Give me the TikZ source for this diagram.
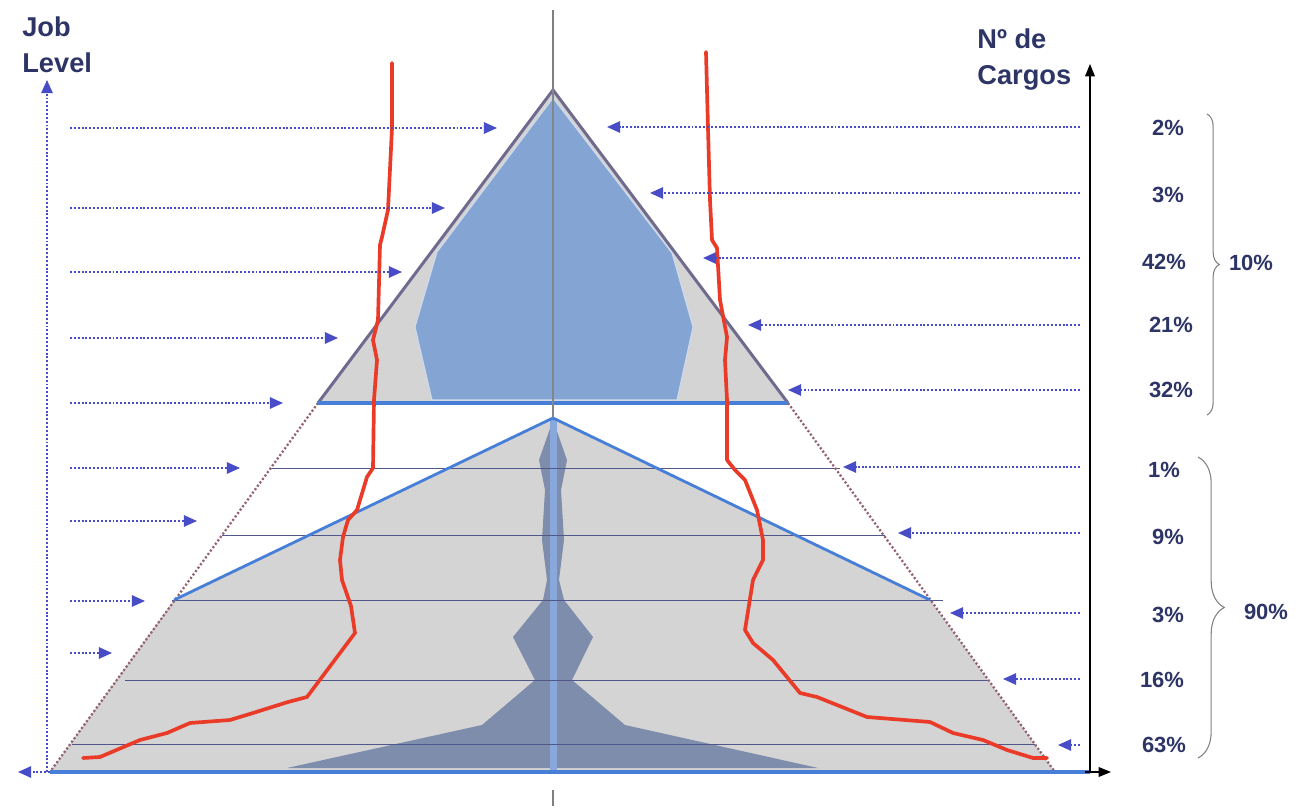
\documentclass[tikz,border=0pt]{standalone}
\usepackage{fontspec}
\setmainfont{Liberation Sans}
\usepackage{tikz}
\usetikzlibrary{arrows.meta, decorations.pathreplacing}
\definecolor{pyrgray}{HTML}{D4D4D4}
\definecolor{topblue}{HTML}{84A5D3}
\definecolor{slate}{HTML}{7E8DAB}
\definecolor{stripblue}{HTML}{88A8DC}
\definecolor{lineblue}{HTML}{477ED8}
\definecolor{edgegray}{HTML}{6F6A8E}
\definecolor{plum}{HTML}{946272}
\definecolor{arrowblue}{HTML}{484CC6}
\definecolor{navytext}{HTML}{2D3466}
\definecolor{redline}{HTML}{EA3B28}
\definecolor{levelline}{HTML}{50578A}

\begin{document}
\begin{tikzpicture}[x=0.02cm, y=-0.02cm,
    txt/.style={text=navytext, font=\bfseries\fontsize{12.5}{14}\selectfont, inner sep=0pt},
    axtxt/.style={text=navytext, font=\bfseries\fontsize{15.5}{21}\selectfont, inner sep=0pt, align=left},
    guide/.style={arrowblue, line width=1pt, dash pattern=on 1.1pt off 1.1pt, -{Triangle[length=7.5pt,width=6.5pt]}},
    level/.style={levelline, line width=0.5pt},
    curve/.style={redline, line width=2.1pt, line join=round, line cap=round}]
    \useasboundingbox (0,0) rectangle (1302,810);

    % corners of the two pyramids
    \coordinate (apex) at (553,90);
    \coordinate (tl) at (318,403);
    \coordinate (tr) at (788,403);
    \coordinate (apex2) at (553,418);
    \coordinate (ml) at (174,600);
    \coordinate (mr) at (930,600);
    \coordinate (bl) at (50,772);
    \coordinate (br) at (1055,772);

    % gray areas
    \fill[pyrgray] (apex) -- (tl) -- (tr) -- cycle;
    \fill[pyrgray] (apex2) -- (ml) -- (bl) -- (br) -- (mr) -- cycle;

    % distribution shapes
    \fill[topblue, draw=white!60!topblue, line width=0.6pt] (553,98) -- (437,252) -- (415,327) -- (432,400)
        -- (677,400) -- (693,327) -- (672,253) -- cycle;
    \fill[slate] (553,420) -- (546,440) -- (539,460) -- (545,490) -- (542,540) -- (547,580) -- (543,600)
        -- (513,637) -- (535,680) -- (482,725) -- (287,768) -- (818,768) -- (625,725) -- (572,680)
        -- (593,637) -- (564,600) -- (559,580) -- (564,540) -- (561,490) -- (567,460) -- (560,440) -- cycle;
    \fill[stripblue] (550,418) rectangle (557,772);

    % level lines
    \draw[level] (271,468) -- (840,468);
    \draw[level] (222,535) -- (885,535);
    \draw[level] (172,600) -- (943,600);
    \draw[level] (125,680) -- (988,680);
    \draw[level] (72,744) -- (1035,744);

    % pyramid edges
    \draw[plum, line width=1.3pt, dash pattern=on 1.2pt off 1.2pt] (tl) -- (bl);
    \draw[plum, line width=1.3pt, dash pattern=on 1.2pt off 1.2pt] (tr) -- (br);
    \draw[edgegray, line width=1.7pt, line join=round] (tl) -- (apex) -- (tr);
    \draw[lineblue, line width=1.6pt, line join=round] (ml) -- (apex2) -- (mr);
    \draw[lineblue, line width=2.3pt] (tl) -- (tr);
    \draw[lineblue, line width=2.3pt] (bl) -- (1090,772);

    % centre line
    \draw[gray, line width=1.1pt] (553,10) -- (apex);
    \draw[gray!80!topblue, line width=0.6pt] (apex) -- (apex2);
    \draw[gray, line width=1.1pt] (553,790) -- (553,806);

    % red curves
    \draw[curve] (392,63) -- (392,128) -- (388,210) -- (382,237) -- (380,245) -- (378,320) -- (373,340)
        -- (377,360) -- (374,400) -- (373,468) -- (367,477) -- (357,510) -- (348,520) -- (343,537)
        -- (340,560) -- (342,580) -- (351,606) -- (355,633) -- (346,645) -- (307,697) -- (288,702)
        -- (253,713) -- (230,720) -- (190,723) -- (167,733) -- (140,740) -- (100,757) -- (83,758);
    \draw[curve] (706,52) -- (708,128) -- (710,200) -- (712,240) -- (717,248) -- (720,300) -- (727,337)
        -- (725,360) -- (727,400) -- (727,460) -- (735,470) -- (745,480) -- (757,510) -- (763,540)
        -- (763,560) -- (753,580) -- (745,630) -- (753,643) -- (773,660) -- (800,693) -- (817,697)
        -- (867,717) -- (930,722) -- (953,733) -- (983,740) -- (1007,750) -- (1033,758) -- (1047,758);

    % guide arrows
    \foreach \y/\x in {128/497, 208/445, 272/402, 338/338, 403/283, 468/240, 521/197, 601/145, 653/112}
        \draw[guide] (70,\y) -- (\x,\y);
    \foreach \y/\x in {127/607, 193/650, 258/703, 325/748, 390/788, 467/843, 533/898, 613/950, 679/1003, 745/1058}
        \draw[guide] (1080,\y) -- (\x,\y);

    % axes
    \draw[guide] (47,772) -- (47,80);
    \draw[guide] (bl) -- (18,772);
    \draw[black, line width=0.7pt, -{Triangle[length=7pt,width=5.5pt]}] (1090,772) -- (1090,64);
    \draw[black, line width=0.7pt, -{Triangle[length=7pt,width=5.5pt]}] (1085,772) -- (1111,772);

    \node[axtxt, anchor=north west] (joblabel) at (22,16) {Job\\Level};
    \node[axtxt, anchor=north west] (cargoslabel) at (977,28) {Nº de\\Cargos};

    % percentages
    \foreach \y/\x/\t [count=\i] in {128/1168/2\%, 195/1168/3\%, 262/1164/42\%, 325/1171/21\%, 390/1171/32\%,
        470/1164/1\%, 537/1168/9\%, 615/1168/3\%, 680/1162/16\%, 745/1164/63\%}
        \node[txt] (p\i) at (\x,\y) {\t};

    \draw[gray, line width=0.6pt, decorate, decoration={brace, amplitude=7pt}] (1207,114) -- (1207,415);
    \draw[gray, line width=0.6pt, decorate, decoration={brace, amplitude=15pt}] (1198,457) -- (1198,758);
    \node[txt] (total10) at (1251,263) {10\%};
    \node[txt] (total90) at (1266,612) {90\%};
\end{tikzpicture}
\end{document}
